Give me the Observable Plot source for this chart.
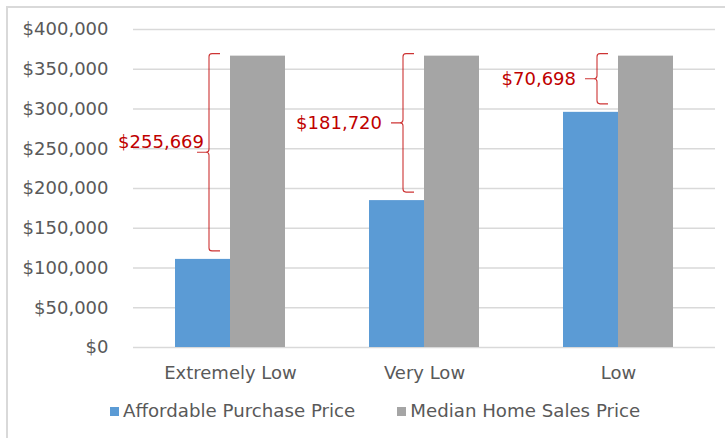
<!DOCTYPE html>
<html><head><meta charset="utf-8">
<script src="https://cdn.jsdelivr.net/npm/d3@7"></script>
<script src="https://cdn.jsdelivr.net/npm/@observablehq/plot@0.6"></script>
<style>
html,body{margin:0;padding:0;background:#fff;overflow:hidden;width:725px;height:438px}
#frame{position:absolute;left:6px;top:6px;width:800px;height:500px;border:2px solid #d9d9d9;box-sizing:border-box}
#chart{position:absolute;left:0;top:0}
#legend{position:absolute;left:110px;top:402px;display:flex;align-items:center;font-family:"DejaVu Sans";font-size:18.2px;line-height:18px;color:#595959;white-space:nowrap}
.sw{display:inline-block;width:9px;height:9px;margin-right:4px}
.item{display:flex;align-items:center;margin-right:42px}
</style></head><body>
<div id="frame"></div><div id="chart"></div><div id="legend"></div>
<script>
const categories = ["Extremely Low", "Very Low", "Low"];
const series = ["Affordable Purchase Price", "Median Home Sales Price"];
const affordable = [110831, 184780, 295802];
const median = [366500, 366500, 366500];
const gaps = [255669, 181720, 70698];
const yTicks = [0, 50000, 100000, 150000, 200000, 250000, 300000, 350000, 400000];
const colors = ["#5B9BD5", "#A5A5A5"];

const money = v => "$" + d3.format(",")(v);
const rows = categories.flatMap((c, i) => [
  {cat: c, series: series[0], value: affordable[i]},
  {cat: c, series: series[1], value: median[i]}
]);
const annots = categories.map((c, i) => ({cat: c, i, top: median[i], bottom: affordable[i], label: money(gaps[i])}));

const plot = Plot.plot({
  width: 725,
  height: 395,
  marginTop: 29,
  marginBottom: 48,
  marginLeft: 132,
  marginRight: 10,
  style: {fontFamily: "DejaVu Sans", fontSize: "18px", color: "#595959", background: "transparent"},
  fx: {domain: categories, padding: 0, label: null, tickSize: 0, tickPadding: 19},
  x: {domain: series, paddingInner: 0, paddingOuter: 0.74, axis: null},
  y: {domain: [0, 400000], ticks: yTicks, tickFormat: money, tickSize: 0, tickPadding: 25, label: null},
  color: {domain: series, range: colors},
  marks: [
    Plot.ruleY(yTicks, {stroke: "#d9d9d9", strokeWidth: 1.5}),
    Plot.barY(rows, {fx: "cat", x: "series", y: "value", fill: "series"}),
    Plot.text(annots, {
      fx: "cat", x: () => series[1], y: "top", text: "label",
      render(index, scales) {
        const g = d3.create("svg:g");
        for (const i of index) {
          const d = annots[i];
          const xv = scales.x(series[1]) - 21;
          const yt = scales.y(d.top) - 2, yb = scales.y(d.bottom) - 8, ym = (yt + yb) / 2;
          const r = 3, tip = 12, hook = 11;
          const p = `M${xv + hook},${yt} L${xv + r},${yt} Q${xv},${yt} ${xv},${yt + r}` +
            ` L${xv},${ym - r} Q${xv},${ym} ${xv - r},${ym} L${xv - tip},${ym}` +
            ` M${xv - r},${ym} Q${xv},${ym} ${xv},${ym + r} L${xv},${yb - r} Q${xv},${yb} ${xv + r},${yb} L${xv + hook},${yb}`;
          g.append("path").attr("d", p).attr("fill", "none").attr("stroke", "#c00000")
            .attr("stroke-width", 1.1).attr("stroke-opacity", 0.8);
          const tucked = d.i === 0;
          g.append("text")
            .attr("x", tucked ? xv - 5 : xv - 21)
            .attr("y", tucked ? ym - 4.5 : ym + 6.5)
            .attr("text-anchor", "end").attr("fill", "#c00000")
            .attr("font-family", "DejaVu Sans").attr("font-size", 18)
            .text(d.label);
        }
        return g.node();
      }
    })
  ]
});
document.getElementById("chart").append(plot);

const legend = document.getElementById("legend");
series.forEach((s, i) => {
  const item = document.createElement("div");
  item.className = "item";
  const sw = document.createElement("span");
  sw.className = "sw";
  sw.style.background = colors[i];
  const t = document.createElement("span");
  t.textContent = s;
  item.append(sw, t);
  legend.append(item);
});
</script>
</body></html>
